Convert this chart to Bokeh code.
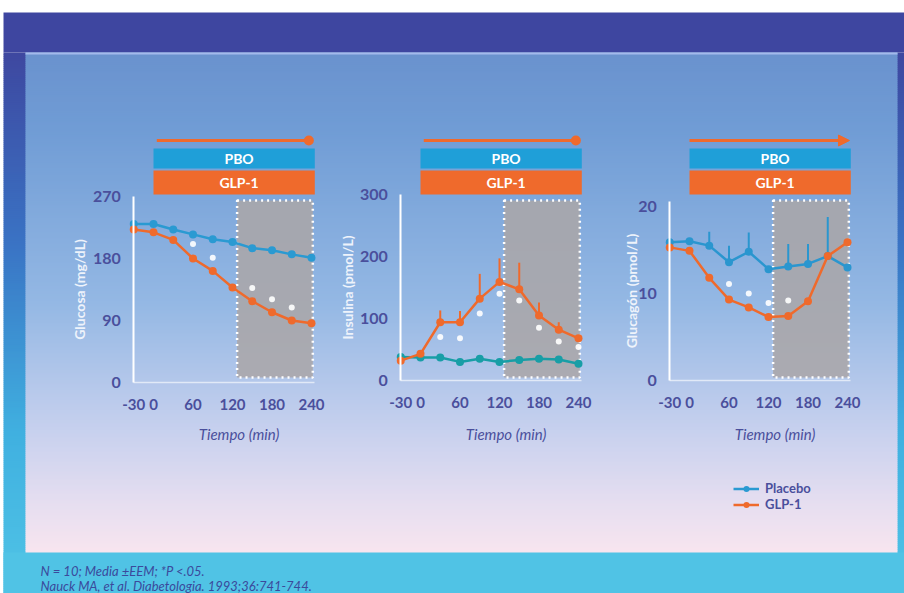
from bokeh.plotting import figure
from bokeh.models import (Range1d, LinearAxis, FixedTicker, ColumnDataSource, Arrow,
                          NormalHead, Legend, LegendItem)
from bokeh.core.properties import value
from bokeh.embed import file_html
from bokeh.resources import INLINE

# ---------------- data ----------------
times = [-30, 0, 30, 60, 90, 120, 150, 180, 210, 240]
time_ticks = [-30, 0, 60, 120, 180, 240]

glucose_placebo = [230, 230, 222, 215, 208, 204, 195, 192, 186, 181]
glucose_glp1 = [222, 218, 207, 180, 162, 138, 118, 102, 90, 86]
glucose_sig_times = [60, 90, 150, 180, 210]
glucose_sig_values = [201, 181, 137, 121, 109]
glucose_ticks = [0, 90, 180, 270]

insulin_placebo = [38, 37, 37, 30, 35, 30, 33, 35, 34, 27]
insulin_glp1 = [32, 43, 94, 94, 132, 159, 147, 105, 82, 68]
insulin_glp1_err = [0, 0, 19, 18, 40, 38, 43, 21, 12, 0]
insulin_sig_times = [30, 60, 90, 120, 150, 180, 210, 240]
insulin_sig_values = [70, 68, 108, 140, 129, 85, 63, 54]
insulin_ticks = [0, 100, 200, 300]

glucagon_placebo = [15.9, 16.0, 15.5, 13.6, 14.8, 12.8, 13.1, 13.4, 14.3, 13.0]
glucagon_placebo_err = [0, 0, 1.6, 1.9, 2.2, 0, 2.6, 2.3, 4.5, 0]
glucagon_glp1 = [15.3, 14.9, 11.8, 9.3, 8.4, 7.3, 7.4, 9.1, 14.3, 15.9]
glucagon_sig_times = [60, 90, 120, 150]
glucagon_sig_values = [11.1, 10.0, 8.9, 9.2]
glucagon_ticks = [0, 10, 20]

y_titles = ["Glucosa (mg/dL)", "Insulina (pmol/L)", "Glucagón (pmol/L)"]
x_title = "Tiempo (min)"
bar_labels = ["PBO", "GLP-1"]
legend_labels = ["Placebo", "GLP-1"]
footnotes = ["N = 10; Media ±EEM; *P <.05.",
             "Nauck MA, et al. Diabetologia. 1993;36:741-744."]

# ---------------- styles / layout ----------------
ORANGE = "#ef6a2c"
BAR_BLUE = "#1f9fd8"
TXT = "#4a4f9c"
FONT = "Lato"
W, H = 904, 593


def cx(X):
    return X


def cy(Y):
    return Y


K = 158 / 240.0  # px per minute

panels = [
    dict(x0=153, y0=382, s=186 / 270.0, top=270, ticks=glucose_ticks,
         pbo=glucose_placebo, glp=glucose_glp1, pbo_err=None, glp_err=None,
         sig_t=glucose_sig_times, sig_v=glucose_sig_values, pcol="#2a9ad2",
         title=y_titles[0], title_standoff=2, head="circle"),
    dict(x0=420, y0=380, s=186 / 300.0, top=300, ticks=insulin_ticks,
         pbo=insulin_placebo, glp=insulin_glp1, pbo_err=None, glp_err=insulin_glp1_err,
         sig_t=insulin_sig_times, sig_v=insulin_sig_values, pcol="#189ea6",
         title=y_titles[1], title_standoff=1, head="circle"),
    dict(x0=689, y0=380, s=174 / 20.0, top=20.6, ticks=glucagon_ticks,
         pbo=glucagon_placebo, glp=glucagon_glp1, pbo_err=glucagon_placebo_err, glp_err=None,
         sig_t=glucagon_sig_times, sig_v=glucagon_sig_values, pcol="#2a96cf",
         title=y_titles[2], title_standoff=-5, head="tri"),
]

p = figure(width=W, height=H, x_range=Range1d(0, W), y_range=Range1d(H, 0),
           x_axis_type=None, y_axis_type=None, output_backend="svg",
           toolbar_location=None, min_border=0, background_fill_color="white",
           border_fill_color="white", outline_line_color=None)


def lerp(stops, t):
    for (p0, c0), (p1, c1) in zip(stops[:-1], stops[1:]):
        if t <= p1:
            f = 0 if p1 == p0 else (t - p0) / (p1 - p0)
            c = [int(round(a + (b - a) * f)) for a, b in zip(c0, c1)]
            return "#%02x%02x%02x" % tuple(c)
    return "#%02x%02x%02x" % tuple(stops[-1][1])


def gradient(xl, xr, yt, yb, stops, step=2):
    tops, bots, cols = [], [], []
    y = yt
    while y < yb:
        y2 = min(y + step, yb)
        tops.append(cy(y))
        bots.append(cy(y2) + 0.6)
        cols.append(lerp(stops, (y - yt) / float(yb - yt)))
        y = y2
    p.quad(left=cx(xl), right=cx(xr), top=tops, bottom=bots, fill_color=cols, line_color=None)


# outer frame (dark blue -> cyan), header band, inner light panel
gradient(3, 904, 52, 593, [(0, (62, 72, 160)), (0.35, (58, 115, 196)), (0.7, (64, 176, 224)), (1, (80, 196, 230))])
p.quad(left=cx(3), right=cx(904), top=cy(12), bottom=cy(52), fill_color="#3e46a0", line_color=None)
gradient(25, 897, 52, 552, [(0, (106, 146, 206)), (0.15, (112, 156, 213)), (0.5, (148, 184, 228)),
                            (0.75, (198, 208, 238)), (0.9, (230, 222, 240)), (1, (248, 229, 239))])
p.quad(left=cx(3), right=cx(904), top=cy(552), bottom=cy(593), fill_color="#50c3e5", line_color=None)
p.segment(x0=cx(25), x1=cx(897), y0=cy(53), y1=cy(53), line_color="#a3baec", line_width=2)

leg_pbo, leg_glp = [], []

for i, pn in enumerate(panels, start=1):
    xn, yn = "x%d" % i, "y%d" % i
    x0c, y0c, s = cx(pn["x0"]), cy(pn["y0"]), pn["s"]
    p.extra_x_ranges[xn] = Range1d((0 - x0c) / K, (W - x0c) / K)
    p.extra_y_ranges[yn] = Range1d((y0c - H) / s, y0c / s)

    # shaded evaluation window
    p.quad(left=127, right=242, top=cy(200), bottom=cy(377), x_range_name=xn,
           fill_color="#aaa6a8", fill_alpha=0.88, line_color="white", line_width=2.5,
           line_dash="2 4")

    # PBO / GLP-1 bars and arrow
    p.quad(left=0, right=245, top=cy(148), bottom=cy(168), x_range_name=xn,
           fill_color=BAR_BLUE, line_color=None)
    p.quad(left=0, right=245, top=cy(170), bottom=cy(194), x_range_name=xn,
           fill_color=ORANGE, line_color=None)
    p.text(x=[130, 130], y=[cy(158), cy(182)], text=bar_labels, x_range_name=xn,
           text_font=value(FONT), text_font_style="bold", text_font_size="14px",
           text_color="white", text_align="center", text_baseline="middle")
    if pn["head"] == "circle":
        p.segment(x0=5, x1=236, y0=cy(140), y1=cy(140), x_range_name=xn,
                  line_color=ORANGE, line_width=3)
        p.scatter(x=[236], y=[cy(140)], x_range_name=xn, marker="circle", size=10,
                  fill_color=ORANGE, line_color=None)
    else:
        p.add_layout(Arrow(end=NormalHead(size=11, fill_color=ORANGE, line_color=ORANGE),
                           x_start=0, x_end=243, y_start=cy(140), y_end=cy(140),
                           x_range_name=xn, line_color=ORANGE, line_width=3))

    # series
    src = ColumnDataSource(dict(t=times, pbo=pn["pbo"], glp=pn["glp"]))
    if pn["pbo_err"] is not None:
        up = [v + e for v, e in zip(pn["pbo"], pn["pbo_err"])]
        p.segment(x0=times, x1=times, y0=pn["pbo"], y1=up, x_range_name=xn, y_range_name=yn,
                  line_color=pn["pcol"], line_width=2)
    if pn["glp_err"] is not None:
        up = [v + e for v, e in zip(pn["glp"], pn["glp_err"])]
        p.segment(x0=times, x1=times, y0=pn["glp"], y1=up, x_range_name=xn, y_range_name=yn,
                  line_color=ORANGE, line_width=2)
    l1 = p.line("t", "pbo", source=src, x_range_name=xn, y_range_name=yn,
                line_color=pn["pcol"], line_width=2.5)
    m1 = p.scatter("t", "pbo", source=src, x_range_name=xn, y_range_name=yn,
                   marker="circle", size=8, fill_color=pn["pcol"], line_color=None)
    l2 = p.line("t", "glp", source=src, x_range_name=xn, y_range_name=yn,
                line_color=ORANGE, line_width=2.5)
    m2 = p.scatter("t", "glp", source=src, x_range_name=xn, y_range_name=yn,
                   marker="circle", size=8, fill_color=ORANGE, line_color=None)
    if i == 1:
        leg_pbo, leg_glp = [l1, m1], [l2, m2]
    p.scatter(x=pn["sig_t"], y=pn["sig_v"], x_range_name=xn, y_range_name=yn,
              marker="circle", size=6, fill_color="white", fill_alpha=0.9, line_color=None)

    # axes
    ya = LinearAxis(x_range_name=xn, y_range_name=yn, fixed_location=-30,
                    bounds=(0, pn["top"]), ticker=FixedTicker(ticks=pn["ticks"]),
                    axis_line_color="white", axis_line_width=2,
                    major_tick_line_color=None, minor_tick_line_color=None,
                    major_label_text_color=TXT, major_label_text_font=FONT,
                    major_label_text_font_size="16px", major_label_text_font_style="bold",
                    major_label_standoff=7,
                    axis_label=pn["title"], axis_label_text_color="#eef3fb",
                    axis_label_text_font=FONT, axis_label_text_font_size="14px",
                    axis_label_text_font_style="bold", axis_label_standoff=pn["title_standoff"])
    p.add_layout(ya, "left")
    xa = LinearAxis(x_range_name=xn, y_range_name=yn, fixed_location=0,
                    bounds=(-30, 244), ticker=FixedTicker(ticks=time_ticks),
                    major_label_overrides={t: str(t) for t in time_ticks},
                    axis_line_color="white", axis_line_alpha=0.6, axis_line_width=1.5,
                    major_tick_line_color=None, minor_tick_line_color=None,
                    major_label_text_color=TXT, major_label_text_font=FONT,
                    major_label_text_font_size="15px", major_label_text_font_style="bold",
                    major_label_standoff=10)
    p.add_layout(xa, "below")
    p.text(x=[130], y=[cy(433)], text=[x_title], x_range_name=xn,
           text_font=value(FONT), text_font_style="italic", text_font_size="15px",
           text_color=TXT, text_align="center", text_baseline="middle")

legend = Legend(items=[LegendItem(label=legend_labels[0], renderers=leg_pbo),
                       LegendItem(label=legend_labels[1], renderers=leg_glp)],
                location=(cx(733), H - cy(512)), orientation="vertical",
                background_fill_alpha=0, border_line_alpha=0, padding=0, margin=0,
                spacing=0, glyph_width=26, glyph_height=15, label_height=15,
                label_standoff=6, label_text_font=FONT, label_text_font_size="13px",
                label_text_font_style="bold", label_text_color=TXT)
p.add_layout(legend)

p.text(x=[cx(40), cx(40)], y=[cy(570), cy(585)], text=footnotes,
       text_font=value(FONT), text_font_style="italic", text_font_size="13px",
       text_color="#3b4a9c", text_align="left", text_baseline="middle")

open("out.html", "w").write(file_html(p, INLINE))
